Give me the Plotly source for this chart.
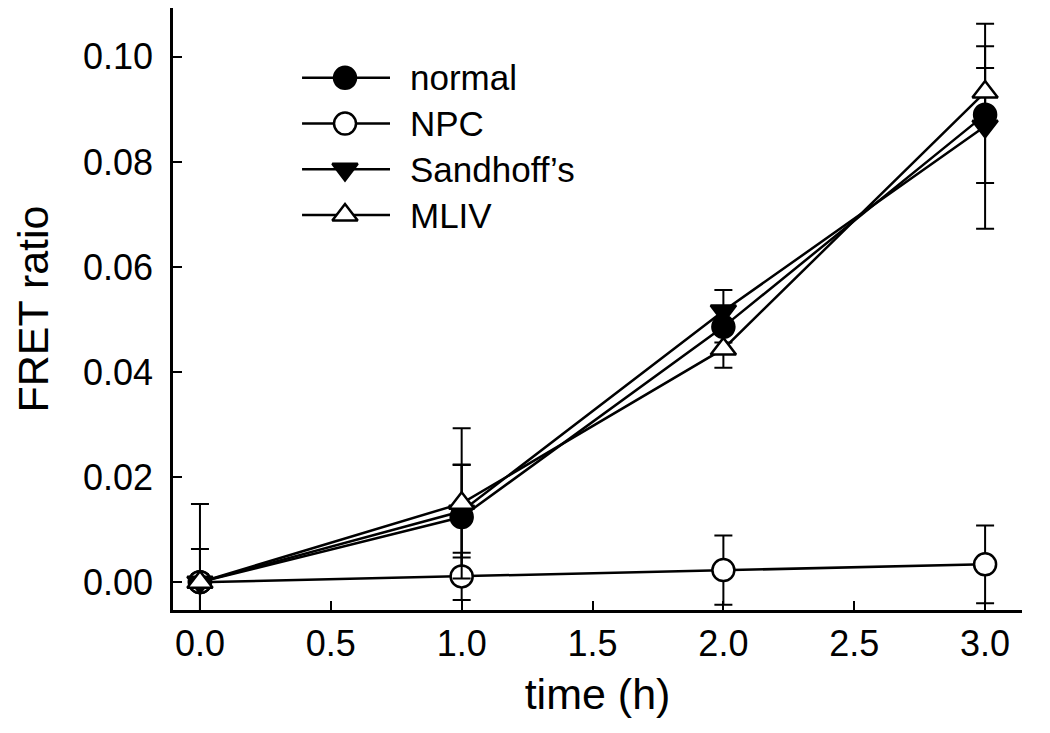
import plotly.graph_objects as go

time_h = [0.0, 1.0, 2.0, 3.0]

normal = [0.0, 0.0124, 0.0486, 0.0890]
normal_err = [0.0010, 0.0100, 0.0030, 0.0130]

npc = [0.0, 0.0011, 0.0023, 0.0034]
npc_err = [0.0015, 0.0045, 0.0066, 0.0074]

sandhoff = [0.0, 0.0135, 0.0516, 0.0868]
sandhoff_err = [0.0063, 0.0088, 0.0040, 0.0195]

mliv = [0.0, 0.0150, 0.0444, 0.0933]
mliv_err = [0.0149, 0.0143, 0.0036, 0.0046]

names = ["normal", "NPC", "Sandhoff\u2019s", "MLIV"]
values = [normal, npc, sandhoff, mliv]
errors = [normal_err, npc_err, sandhoff_err, mliv_err]
symbols = ["circle", "circle", "triangle-down", "triangle-up"]
fills = ["black", "white", "black", "white"]

FONT = "Liberation Sans, Arial, sans-serif"
MSIZE = 22

fig = go.Figure()
for name, vals, errs, sym, fill in zip(names, values, errors, symbols, fills):
    fig.add_trace(go.Scatter(
        x=time_h, y=vals, name=name, mode="lines+markers",
        line=dict(color="black", width=2.5),
        marker=dict(symbol=sym, size=MSIZE, color=fill,
                    line=dict(color="black", width=2.5)),
        error_y=dict(type="data", array=errs, visible=True,
                     color="black", thickness=2, width=9),
        showlegend=False,
    ))

# Hand-drawn legend on a hidden overlay axis (paper-fraction coordinates)
leg_x0, leg_xm, leg_x1, leg_text_x = 0.152, 0.2026, 0.2556, 0.277
leg_rows = [0.884, 0.808, 0.732, 0.656]
annotations = []
for name, sym, fill, ly in zip(names, symbols, fills, leg_rows):
    fig.add_trace(go.Scatter(
        x=[leg_x0, leg_x1], y=[ly, ly], mode="lines", xaxis="x2", yaxis="y2",
        line=dict(color="black", width=2.5), showlegend=False, hoverinfo="skip",
    ))
    fig.add_trace(go.Scatter(
        x=[leg_xm], y=[ly], mode="markers", xaxis="x2", yaxis="y2",
        marker=dict(symbol=sym, size=MSIZE, color=fill,
                    line=dict(color="black", width=2.5)),
        showlegend=False, hoverinfo="skip",
    ))
    annotations.append(dict(
        x=leg_text_x, y=ly, xref="x2", yref="y2", text=name, showarrow=False,
        xanchor="left", yanchor="middle", font=dict(size=35, family=FONT, color="black"),
    ))

fig.update_layout(
    width=1050, height=733,
    paper_bgcolor="white", plot_bgcolor="white",
    margin=dict(l=165, r=36, t=0, b=131),
    font=dict(family=FONT, color="black", size=36),
    showlegend=False,
    annotations=annotations,
    xaxis2=dict(overlaying="x", range=[0, 1], visible=False, fixedrange=True),
    yaxis2=dict(overlaying="y", range=[0, 1], visible=False, fixedrange=True),
)
fig.layout.xaxis.update(
    range=[-0.103, 3.141], tickvals=[0, 0.5, 1, 1.5, 2, 2.5, 3],
    tickformat=".1f", ticks="inside", ticklen=9, tickwidth=2, tickcolor="black",
    showline=True, linecolor="black", linewidth=2.5, showgrid=False, zeroline=False,
    ticklabelstandoff=0, automargin=False,
    tickfont=dict(size=36, family=FONT),
    title=dict(text="time (h)", font=dict(size=43, family=FONT), standoff=16),
)
fig.layout.yaxis.update(
    range=[-0.0053, 0.1093], tickvals=[0, 0.02, 0.04, 0.06, 0.08, 0.10],
    tickformat=".2f", ticks="inside", ticklen=9, tickwidth=2, tickcolor="black",
    showline=True, linecolor="black", linewidth=2.5, showgrid=False, zeroline=False,
    ticklabelstandoff=10, automargin=False,
    tickfont=dict(size=36, family=FONT),
    title=dict(text="FRET ratio", font=dict(size=43, family=FONT), standoff=21),
)

fig.write_html("out.html")
